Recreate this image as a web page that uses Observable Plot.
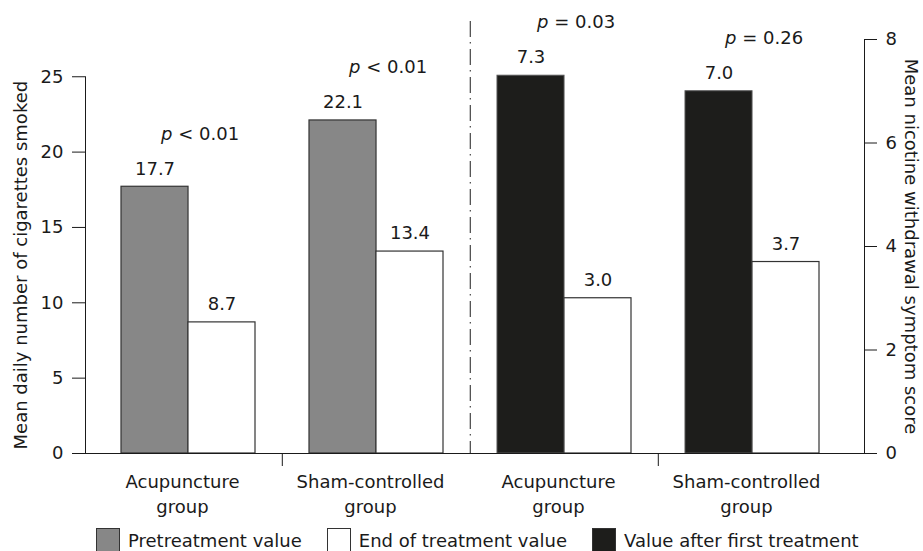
<!DOCTYPE html>
<html><head><meta charset="utf-8">
<script src="https://cdn.jsdelivr.net/npm/d3@7"></script>
<script src="https://cdn.jsdelivr.net/npm/@observablehq/plot@0.6"></script>
<style>
body{margin:0;background:#fff;font-family:"DejaVu Sans",sans-serif;color:#1a1a1a}
#legend{display:flex;align-items:center;height:24px;margin-top:4px;padding-left:96px;font-size:18px}
.item{display:flex;align-items:center;margin-right:25px}
.sw{width:22px;height:22px;border:1px solid #333;margin-right:8px;box-sizing:content-box}
</style></head><body><div id="chart"></div><div id="legend"></div>
<script>
// ---- data ----
const groupIds = ["cig-acu", "cig-sham", "nic-acu", "nic-sham"];
const groupLabels = ["Acupuncture\ngroup", "Sham-controlled\ngroup", "Acupuncture\ngroup", "Sham-controlled\ngroup"];
const cigPretreatment = [17.7, 22.1];
const cigEndOfTreatment = [8.7, 13.4];
const nicAfterFirst = [7.3, 7.0];
const nicEndOfTreatment = [3.0, 3.7];
const pSymbols = ["<", "<", "=", "="];
const pNumbers = ["0.01", "0.01", "0.03", "0.26"];
const cigTicks = [0, 5, 10, 15, 20, 25];
const nicTicks = [0, 2, 4, 6, 8];
const seriesNames = ["Pretreatment value", "End of treatment value", "Value after first treatment"];
const seriesColors = ["#878787", "#ffffff", "#1d1d1b"];
const yTitleLeft = "Mean daily number of cigarettes smoked";
const yTitleRight = "Mean nicotine withdrawal symptom score";

// ---- layout ----
const W = 923, H = 524, mL = 85, mR = 59, mT = 39, mB = 71;
const K = 3.434;                    // one right-axis unit in left-axis units
const yMax = nicTicks[nicTicks.length - 1] * K;
const PI = 0.289, PO = 0.212, AL = 0.44;
const step = (W - mL - mR) / (groupIds.length - PI + 2 * PO);
const bw = step * (1 - PI);
const frameH = H - mT - mB;
const leftInsetTop = (1 - cigTicks[cigTicks.length - 1] / yMax) * frameH;

const rows = groupIds.map((id, i) => {
  const nic = i >= 2, j = i % 2, s = nic ? K : 1;
  const first = nic ? nicAfterFirst[j] : cigPretreatment[j];
  const end = nic ? nicEndOfTreatment[j] : cigEndOfTreatment[j];
  return {id, nic, first, end, firstY: first * s, endY: end * s, pSym: pSymbols[i], pNum: pNumbers[i]};
});

const ink = "#1a1a1a";
const barStroke = "#333";
const pdx = -16, pdy = -53, vdy = -18;

const chart = Plot.plot({
  width: W, height: H,
  marginLeft: mL, marginRight: mR, marginTop: mT, marginBottom: mB,
  x: {type: "band", domain: groupIds, paddingInner: PI, paddingOuter: PO, align: AL},
  y: {domain: [0, yMax]},
  style: {fontFamily: "DejaVu Sans", fontSize: "18px", color: ink, background: "#fff"},
  marks: [
    Plot.barY(rows.filter(d => !d.nic), {x: "id", y: "firstY", fill: seriesColors[0], stroke: barStroke, strokeWidth: 1.2, insetRight: bw / 2}),
    Plot.barY(rows.filter(d => d.nic), {x: "id", y: "firstY", fill: seriesColors[2], stroke: "#555", strokeWidth: 1, insetRight: bw / 2}),
    Plot.barY(rows, {x: "id", y: "endY", fill: seriesColors[1], stroke: barStroke, strokeWidth: 1.2, insetLeft: bw / 2}),
    Plot.text(rows, {x: "id", y: "firstY", text: d => d.first.toFixed(1), dx: -bw / 4, dy: vdy}),
    Plot.text(rows, {x: "id", y: "endY", text: d => d.end.toFixed(1), dx: bw / 4, dy: vdy}),
    Plot.text(rows, {x: "id", y: "firstY", text: () => "p", fontStyle: "italic", textAnchor: "end", dx: pdx, dy: pdy}),
    Plot.text(rows, {x: "id", y: "firstY", text: d => "\u00a0" + d.pSym + "\u00a0" + d.pNum, textAnchor: "start", dx: pdx, dy: pdy}),
    Plot.frame({anchor: "left", insetTop: leftInsetTop, stroke: ink}),
    Plot.frame({anchor: "right", stroke: ink}),
    Plot.ruleY([0], {insetLeft: -13, insetRight: -12, stroke: ink}),
    Plot.ruleX([groupIds[1], groupIds[3]], {y1: 0, y2: 0, insetBottom: -13, dx: -step / 2, stroke: ink}),
    Plot.ruleX([groupIds[2]], {dx: -step / 2, insetTop: -18, stroke: "#444", strokeWidth: 1.2, strokeDasharray: "16,5,1.5,5.5"}),
    Plot.axisY({anchor: "left", ticks: cigTicks, tickSize: 13, tickPadding: 9, label: null}),
    Plot.axisY({anchor: "right", ticks: nicTicks.map(v => v * K), tickFormat: d => String(Math.round(d / K)), tickSize: 12, tickPadding: 9, label: null}),
    Plot.axisX({anchor: "bottom", tickSize: 0, tickPadding: 17, lineHeight: 1.39, dx: -6, tickFormat: d => groupLabels[groupIds.indexOf(d)], label: null}),
    Plot.text([yTitleLeft], {y: () => (cigTicks[0] + cigTicks[cigTicks.length - 1]) / 2, text: d => d, frameAnchor: "left", textAnchor: "middle", rotate: -90, dx: -64, fontSize: 18}),
    Plot.text([yTitleRight], {y: () => K * (nicTicks[0] + nicTicks[nicTicks.length - 1]) / 2, text: d => d, frameAnchor: "right", textAnchor: "middle", rotate: 90, dx: 46, fontSize: 18})
  ]
});
document.getElementById("chart").appendChild(chart);

const legend = document.getElementById("legend");
seriesNames.forEach((name, i) => {
  const item = document.createElement("div");
  item.className = "item";
  const sw = document.createElement("div");
  sw.className = "sw";
  sw.style.background = seriesColors[i];
  const label = document.createElement("span");
  label.textContent = name;
  item.appendChild(sw); item.appendChild(label);
  legend.appendChild(item);
});
</script></body></html>
